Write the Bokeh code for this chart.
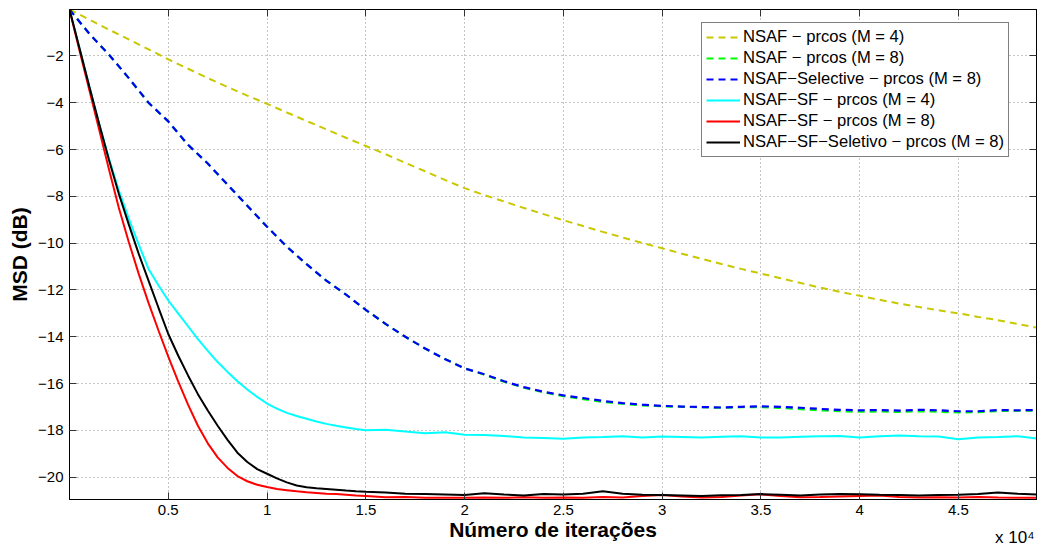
from bokeh.plotting import figure
from bokeh.models import FixedTicker, LinearAxis, Title
from bokeh.embed import file_html
from bokeh.resources import INLINE

# Iteration grid for the dashed (NSAF) curves: every 1000 iterations
iters_coarse = list(range(0, 50000, 1000))
# Finer grid for the fast-converging SF curves: every 500 up to 15000, then every 1000
iters_fine = list(range(0, 15500, 500)) + list(range(16000, 50000, 1000))

# MSD curves in dB
nsaf_m4 = [-0.02, -0.45, -0.88, -1.30, -1.72, -2.15, -2.55, -2.95, -3.33, -3.70,
           -4.05, -4.42, -4.78, -5.14, -5.50, -5.85, -6.20, -6.57, -6.93, -7.30,
           -7.65, -7.95, -8.22, -8.50, -8.76, -9.02, -9.27, -9.52, -9.76, -9.99,
           -10.22, -10.45, -10.67, -10.89, -11.10, -11.30, -11.50, -11.70, -11.90, -12.08,
           -12.25, -12.42, -12.58, -12.73, -12.87, -13.00, -13.15, -13.29, -13.45, -13.62]

nsaf_m8 = [-0.02, -1.05, -1.95, -2.95, -4.00, -4.80, -5.80, -6.60, -7.50, -8.40,
           -9.30, -10.15, -10.90, -11.60, -12.20, -12.85, -13.45, -14.00, -14.50, -14.95,
           -15.35, -15.62, -15.92, -16.17, -16.37, -16.54, -16.66, -16.78, -16.86, -16.93,
           -16.97, -16.99, -17.01, -17.03, -17.01, -17.00, -17.04, -17.09, -17.14, -17.18,
           -17.20, -17.19, -17.21, -17.18, -17.20, -17.23, -17.22, -17.17, -17.16, -17.15]

nsaf_sel_m8 = [-0.02, -1.05, -1.95, -2.95, -4.00, -4.80, -5.80, -6.60, -7.50, -8.40,
               -9.30, -10.15, -10.90, -11.60, -12.20, -12.85, -13.45, -14.00, -14.50, -14.95,
               -15.35, -15.60, -15.90, -16.15, -16.35, -16.50, -16.62, -16.74, -16.83, -16.90,
               -16.95, -16.98, -17.00, -17.02, -16.99, -16.97, -16.99, -17.03, -17.08, -17.12,
               -17.14, -17.13, -17.15, -17.12, -17.14, -17.18, -17.18, -17.13, -17.14, -17.13]

nsaf_sf_m4 = [-0.02, -1.65, -3.30, -4.90, -6.40, -7.75, -8.95, -10.05, -11.10, -11.80,
              -12.45, -13.00, -13.55, -14.10, -14.60, -15.08, -15.50, -15.90, -16.25, -16.57,
              -16.85, -17.07, -17.25, -17.38, -17.50, -17.62, -17.72, -17.80, -17.87, -17.94,
              -17.99,
              -17.97, -18.05, -18.12, -18.08,
              -18.18, -18.20, -18.24, -18.30, -18.32, -18.35, -18.30, -18.28, -18.25, -18.30,
              -18.26, -18.28, -18.30, -18.27, -18.25, -18.30, -18.30, -18.27, -18.25, -18.24,
              -18.30, -18.25, -18.22, -18.25, -18.26, -18.38, -18.30, -18.28, -18.25, -18.35]

nsaf_sf_m8 = [-0.02, -1.75, -3.45, -5.15, -6.85, -8.50, -9.95, -11.30, -12.55, -13.72,
              -14.85, -15.90, -16.90, -17.80, -18.55, -19.15, -19.60, -19.95, -20.17, -20.32,
              -20.42, -20.50, -20.55, -20.60, -20.64, -20.67, -20.70, -20.72, -20.75, -20.78,
              -20.80,
              -20.85, -20.84, -20.88, -20.87,
              -20.88, -20.86, -20.88, -20.85, -20.87, -20.86, -20.88, -20.84, -20.86, -20.80,
              -20.76, -20.82, -20.86, -20.84, -20.78, -20.73, -20.80, -20.85, -20.84, -20.82,
              -20.80, -20.78, -20.84, -20.86, -20.85, -20.86, -20.84, -20.86, -20.87, -20.88]

nsaf_sf_sel_m8 = [-0.02, -1.65, -3.30, -4.90, -6.45, -7.90, -9.20, -10.45, -11.60, -12.75,
                  -13.88, -14.80, -15.65, -16.45, -17.15, -17.80, -18.40, -18.95, -19.35, -19.65,
                  -19.85, -20.05, -20.22, -20.35, -20.43, -20.47, -20.50, -20.53, -20.57, -20.60,
                  -20.62,
                  -20.65, -20.70, -20.72, -20.74,
                  -20.76, -20.68, -20.74, -20.78, -20.72, -20.74, -20.70, -20.60, -20.70, -20.75,
                  -20.76, -20.78, -20.80, -20.77, -20.76, -20.72, -20.75, -20.78, -20.74, -20.72,
                  -20.73, -20.75, -20.76, -20.78, -20.76, -20.75, -20.72, -20.65, -20.70, -20.74]

series_names = ["NSAF \u2212 prcos (M = 4)",
                "NSAF \u2212 prcos (M = 8)",
                "NSAF\u2212Selective \u2212 prcos (M = 8)",
                "NSAF\u2212SF \u2212 prcos (M = 4)",
                "NSAF\u2212SF \u2212 prcos (M = 8)",
                "NSAF\u2212SF\u2212Seletivo \u2212 prcos (M = 8)"]

x_ticks = [5000, 10000, 15000, 20000, 25000, 30000, 35000, 40000, 45000]
x_tick_labels = ["0.5", "1", "1.5", "2", "2.5", "3", "3.5", "4", "4.5"]
x_scale_note = "x 10\u2074"
y_ticks = [-20, -18, -16, -14, -12, -10, -8, -6, -4, -2]
y_tick_labels = ["\u221220", "\u221218", "\u221216", "\u221214", "\u221212",
                 "\u221210", "\u22128", "\u22126", "\u22124", "\u22122"]

FONT = "Liberation Sans"

p = figure(width=1039, height=547, output_backend="svg", toolbar_location=None,
           x_range=(0, 48950), y_range=(-20.95, -0.02),
           min_border_left=69, min_border_right=3, min_border_top=9, min_border_bottom=48)
p.background_fill_color = "white"
p.border_fill_color = "white"
p.outline_line_color = "black"
p.outline_line_width = 1

# Bottom / left axes
for ax in (p.xaxis[0], p.yaxis[0]):
    ax.major_tick_in = 7
    ax.major_tick_out = 0
    ax.minor_tick_line_color = None
    ax.axis_line_color = "black"
    ax.major_tick_line_color = "#333333"
    ax.major_label_text_font = FONT
    ax.major_label_text_font_size = "15px"
    ax.major_label_text_color = "black"
    ax.axis_label_text_font = FONT
    ax.axis_label_text_font_size = "21px"
    ax.axis_label_text_font_style = "bold"
    ax.axis_label_text_color = "black"

p.xaxis[0].ticker = FixedTicker(ticks=x_ticks)
p.xaxis[0].major_label_overrides = dict(zip(x_ticks, x_tick_labels))
p.xaxis[0].major_label_standoff = 5
p.xaxis[0].axis_label = "N\u00famero de itera\u00e7\u00f5es"
p.xaxis[0].axis_label_standoff = 0

p.yaxis[0].ticker = FixedTicker(ticks=y_ticks)
p.yaxis[0].major_label_overrides = dict(zip(y_ticks, y_tick_labels))
p.yaxis[0].major_label_standoff = 6
p.yaxis[0].axis_label = "MSD (dB)"
p.yaxis[0].axis_label_standoff = 4

# Mirror ticks on top and right (no labels)
top_axis = LinearAxis(ticker=FixedTicker(ticks=x_ticks), major_tick_in=7, major_tick_out=0,
                      minor_tick_line_color=None, major_label_text_font_size="0px",
                      major_label_overrides={t: "" for t in x_ticks},
                      major_label_standoff=0, axis_line_color="black",
                      major_tick_line_color="#333333")
right_axis = LinearAxis(ticker=FixedTicker(ticks=y_ticks), major_tick_in=7, major_tick_out=0,
                        minor_tick_line_color=None, major_label_text_font_size="0px",
                        major_label_overrides={t: "" for t in y_ticks},
                        major_label_standoff=0, axis_line_color="black",
                        major_tick_line_color="#333333")
p.add_layout(top_axis, "above")
p.add_layout(right_axis, "right")

# Scale note for the x axis, tucked into the bottom margin at the right
p.add_layout(Title(text=x_scale_note, align="right", vertical_align="top",
                   offset=2, standoff=-32, text_font=FONT, text_font_size="17px",
                   text_font_style="normal", text_color="black"), "below")

p.xgrid.ticker = FixedTicker(ticks=x_ticks)
p.ygrid.ticker = FixedTicker(ticks=y_ticks)
for g in (p.xgrid[0], p.ygrid[0]):
    g.grid_line_color = "#8c8c8c"
    g.grid_line_dash = "1 3"
    g.grid_line_width = 1

dash = "7 5"
p.line(iters_coarse, nsaf_m4, line_color="#c8c800", line_width=2, line_dash=dash,
       legend_label=series_names[0])
p.line(iters_coarse, nsaf_m8, line_color="#00ff00", line_width=2.2, line_dash=dash,
       legend_label=series_names[1])
p.line(iters_coarse, nsaf_sel_m8, line_color="#0000ff", line_width=2.2, line_dash=dash,
       legend_label=series_names[2])
p.line(iters_fine, nsaf_sf_m4, line_color="#00ffff", line_width=2,
       legend_label=series_names[3])
p.line(iters_fine, nsaf_sf_m8, line_color="#ff0000", line_width=2,
       legend_label=series_names[4])
p.line(iters_fine, nsaf_sf_sel_m8, line_color="black", line_width=2,
       legend_label=series_names[5])

leg = p.legend[0]
leg.location = (632, 342)
leg.border_line_color = "black"
leg.border_line_width = 1
leg.background_fill_color = "white"
leg.background_fill_alpha = 1
leg.padding = 4
leg.spacing = 1
leg.margin = 0
leg.label_height = 20
leg.glyph_height = 20
leg.glyph_width = 34
leg.label_standoff = 3
leg.label_text_font = FONT
leg.label_text_font_size = "16.6px"
leg.label_text_color = "black"

open("out.html", "w").write(file_html(p, INLINE))
